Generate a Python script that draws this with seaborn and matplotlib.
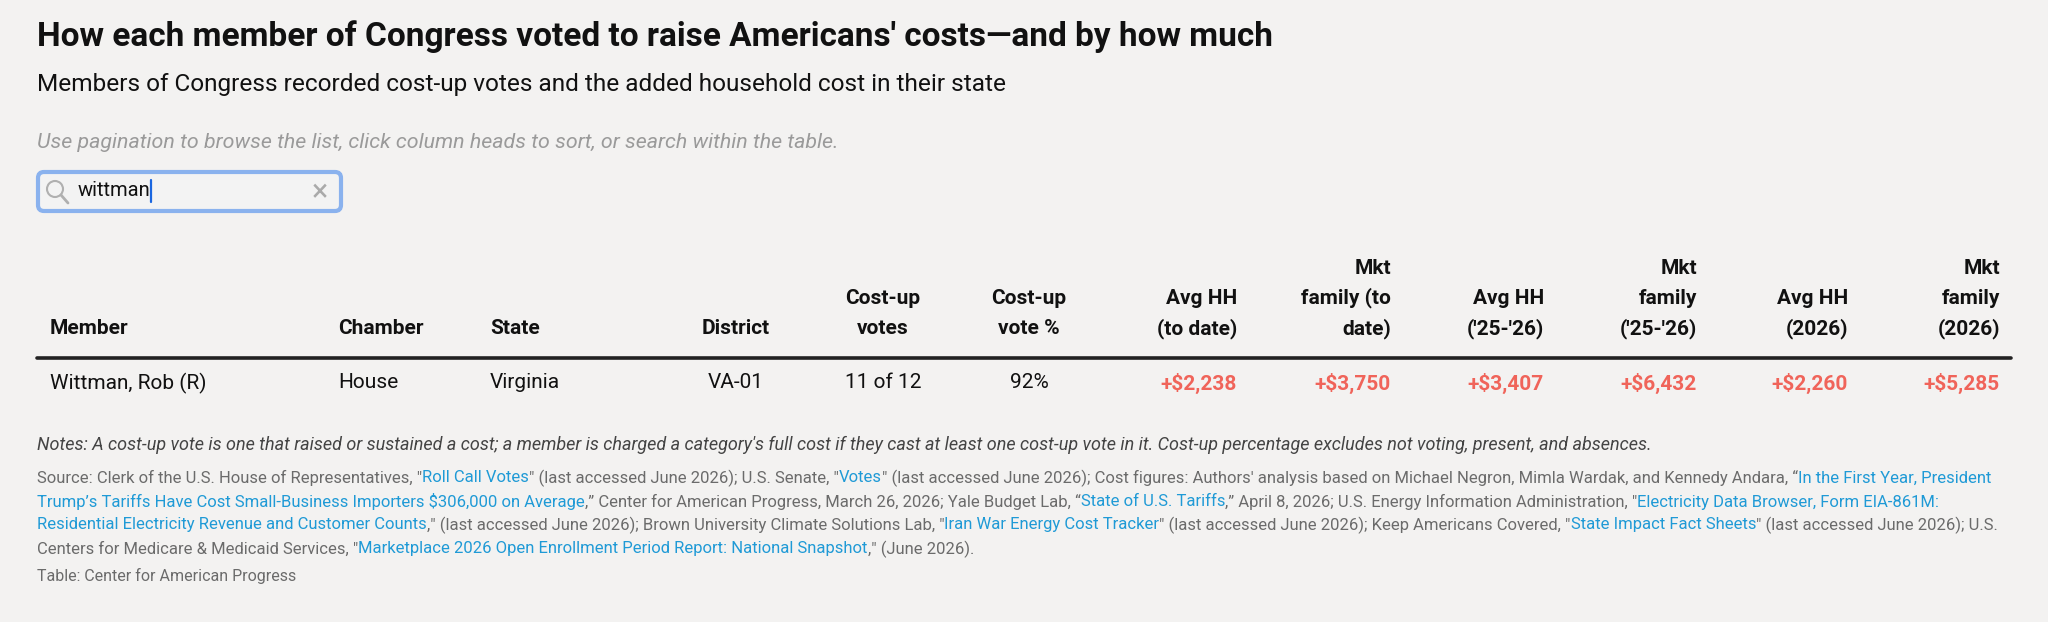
import matplotlib
matplotlib.use("Agg")
import matplotlib.pyplot as plt
import seaborn as sns
import pandas as pd
from matplotlib.patches import FancyBboxPatch, Circle
from matplotlib.lines import Line2D

sns.set_theme(style="white")
plt.rcParams['font.family'] = ['Roboto', 'DejaVu Sans']

title = "How each member of Congress voted to raise Americans' costs\u2014and by how much"
subtitle = "Members of Congress recorded cost-up votes and the added household cost in their state"
hint = "Use pagination to browse the list, click column heads to sort, or search within the table."
search_text = "wittman"

headers = [["Member"], ["Chamber"], ["State"], ["District"], ["Cost-up", "votes"],
           ["Cost-up", "vote %"], ["Avg HH", "(to date)"], ["Mkt", "family (to", "date)"],
           ["Avg HH", "('25-'26)"], ["Mkt", "family", "('25-'26)"], ["Avg HH", "(2026)"],
           ["Mkt", "family", "(2026)"]]
members = ["Wittman, Rob (R)"]
chambers = ["House"]
states = ["Virginia"]
districts = ["VA-01"]
costup_votes = ["11 of 12"]
costup_pct = ["92%"]
avg_hh_to_date = ["+$2,238"]
mkt_family_to_date = ["+$3,750"]
avg_hh_2526 = ["+$3,407"]
mkt_family_2526 = ["+$6,432"]
avg_hh_2026 = ["+$2,260"]
mkt_family_2026 = ["+$5,285"]

df = pd.DataFrame({"Member": members, "Chamber": chambers, "State": states, "District": districts,
                   "Votes": costup_votes, "Pct": costup_pct, "A1": avg_hh_to_date, "M1": mkt_family_to_date,
                   "A2": avg_hh_2526, "M2": mkt_family_2526, "A3": avg_hh_2026, "M3": mkt_family_2026})

notes = ("Notes: A cost-up vote is one that raised or sustained a cost; a member is charged a category's full cost "
         "if they cast at least one cost-up vote in it. Cost-up percentage excludes not voting, present, and absences.")
G, B = "#6b6b6b", "#1f9ad6"
source_lines = [
    [("Source: Clerk of the U.S. House of Representatives, \"", G), ("Roll Call Votes", B), ("\" (last accessed June 2026); U.S. Senate, \"", G), ("Votes", B),
     ("\" (last accessed June 2026); Cost figures: Authors' analysis based on Michael Negron, Mimla Wardak, and Kennedy Andara, \u201c", G),
     ("In the First Year, President", B)],
    [("Trump\u2019s Tariffs Have Cost Small-Business Importers $306,000 on Average", B), (",\u201d Center for American Progress, March 26, 2026; Yale Budget Lab, \u201c", G),
     ("State of U.S. Tariffs", B), (",\u201d April 8, 2026; U.S. Energy Information Administration, \"", G), ("Electricity Data Browser, Form EIA-861M:", B)],
    [("Residential Electricity Revenue and Customer Counts", B), (",\" (last accessed June 2026); Brown University Climate Solutions Lab, \"", G),
     ("Iran War Energy Cost Tracker", B), ("\" (last accessed June 2026); Keep Americans Covered, \"", G), ("State Impact Fact Sheets", B),
     ("\" (last accessed June 2026); U.S.", G)],
    [("Centers for Medicare & Medicaid Services, \"", G), ("Marketplace 2026 Open Enrollment Period Report: National Snapshot", B), (",\" (June 2026).", G)],
]
credit = "Table: Center for American Progress"

W, H = 2048, 622
fig = plt.figure(figsize=(W / 100, H / 100), dpi=100)
BG = "#f3f2f1"
fig.patch.set_facecolor(BG)
ax = fig.add_axes([0, 0, 1, 1])
ax.set_xlim(0, W); ax.set_ylim(H, 0); ax.axis("off")

def T(x, y, s, **kw):
    return ax.text(x, y, s, va="center", **kw)

T(37, 37, title, fontsize=24, fontweight="bold", color="#111")
T(37, 85, subtitle, fontsize=17.6, color="#111")
T(37, 142, hint, fontsize=15.4, style="italic", color="#9a9a9a")

# search box
ax.add_patch(FancyBboxPatch((38, 172), 303, 39, boxstyle="round,pad=0,rounding_size=6",
                            fc="#f3f3f3", ec="#8ab2ee", lw=3))
ax.add_patch(Circle((55, 189), 8, fill=False, ec="#b0b0b0", lw=1.5))
ax.add_line(Line2D([61, 68], [195, 203], color="#b0b0b0", lw=2))
T(78, 191, search_text, fontsize=14.5, color="#111")
ax.add_line(Line2D([151, 151], [180, 202], color="#1a66e0", lw=1.6))
T(320, 193, "\u00d7", fontsize=22, color="#aaaaaa", ha="center")

# table
col_x = [50, 338, 490, 736, 883, 1029, 1237, 1391, 1544, 1697, 1848, 2000]
col_ha = ["left", "left", "left", "center", "center", "center", "right", "right", "right", "right", "right", "right"]
head_y = [268, 298, 329]
for x, ha, h in zip(col_x, col_ha, headers):
    start = 3 - len(h)
    for i, line in enumerate(h):
        T(x, head_y[start + i], line, fontsize=15, fontweight="bold", color="#111", ha=ha)
ax.add_line(Line2D([37, 2011], [358, 358], color="#222", lw=2.6))
row_y = 383
for _, row in df.iterrows():
    for j, (x, ha) in enumerate(zip(col_x, col_ha)):
        red = j >= 6
        T(x, row_y, row.iloc[j], fontsize=15, ha=ha, color="#f0645a" if red else "#111",
          fontweight="bold" if red else "normal")

T(37, 445, notes, fontsize=13, style="italic", color="#444")

fig.canvas.draw()
r = fig.canvas.get_renderer()
inv = ax.transData.inverted()
for y, runs in zip([478, 502, 525, 549], source_lines):
    x = 37
    for s, c in runs:
        t = T(x, y, s, fontsize=12, color=c)
        bb = t.get_window_extent(r)
        x0 = inv.transform((bb.x0, 0))[0]; x1 = inv.transform((bb.x1, 0))[0]
        x += x1 - x0
T(37, 576, credit, fontsize=11.5, color=G)

fig.savefig("out.png", dpi=100, facecolor=BG)
